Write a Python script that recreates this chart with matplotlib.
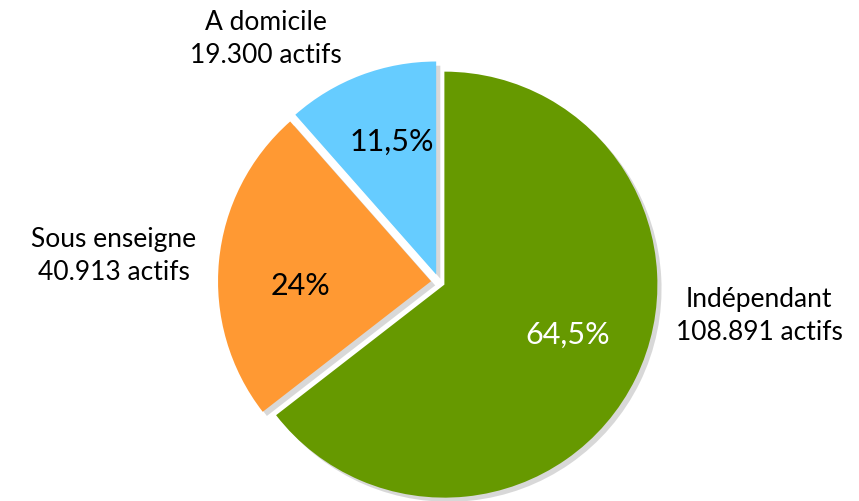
import matplotlib
matplotlib.use("Agg")
import matplotlib.pyplot as plt
import matplotlib.patheffects as pe

#---------- data ----------
categories = ["Indépendant", "Sous enseigne", "A domicile"]
actifs = ["108.891", "40.913", "19.300"]
pct = [64.5, 24.0, 11.5]
pct_labels = ["64,5%", "24%", "11,5%"]
colors = ["#669900", "#FF9933", "#66CCFF"]
pct_colors = ["white", "black", "black"]

plt.rcParams['font.family'] = ['Lato', 'DejaVu Sans']

fig = plt.figure(figsize=(8.59, 5.02), dpi=100)
ax = fig.add_axes([0, 0, 1, 1])

# pie centre / radius in pixel units (y up)
cx, cy, r = 439, 502 - 283, 213

# explode is in data units (pixels here)
wedges, texts, autotexts = ax.pie(
    pct,
    colors=colors,
    startangle=90,
    counterclock=False,
    explode=[6, 8, 8],
    radius=r,
    center=(cx, cy),
    autopct=lambda p: "",
    pctdistance=0.67,
    wedgeprops=dict(linewidth=0),
)

# soft gray shadow behind slices
for w in wedges:
    w.set_path_effects([
        pe.SimplePatchShadow(offset=(3, -3), shadow_rgbFace="#aaaaaa", alpha=0.45),
        pe.Normal(),
    ])

# percentage labels, placed like in the original
pct_pos = [(568, 502 - 335), (300, 502 - 286), (392, 502 - 142)]
for t, lab, c, pos in zip(autotexts, pct_labels, pct_colors, pct_pos):
    t.set_text(lab)
    t.set_color(c)
    t.set_fontsize(22)
    t.set_position(pos)

# outer labels
label_pos = {
    "Indépendant": (759, 502 - 316),
    "Sous enseigne": (114, 502 - 256),
    "A domicile": (266, 502 - 39),
}
for cat, act in zip(categories, actifs):
    x, y = label_pos[cat]
    ax.text(x, y, cat + "\n" + act + " actifs", ha="center", va="center",
            fontsize=19, linespacing=1.38)

ax.set_xlim(0, 859)
ax.set_ylim(0, 502)
ax.set_aspect("equal")
ax.axis("off")

fig.savefig("out.png", dpi=100)
